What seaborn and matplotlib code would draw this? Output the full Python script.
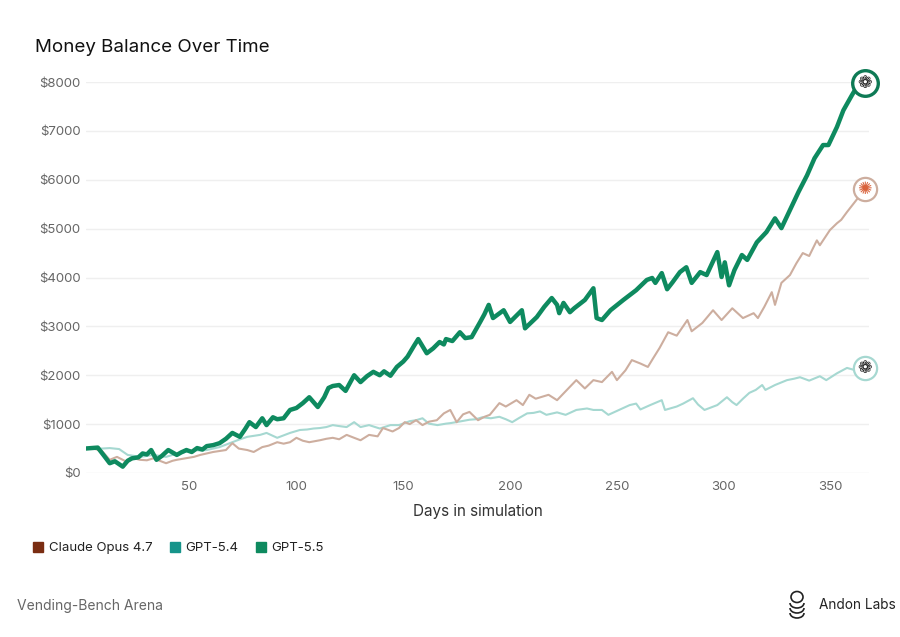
import numpy as np
import pandas as pd
import matplotlib
matplotlib.use("Agg")
import matplotlib.pyplot as plt
from matplotlib.lines import Line2D
from matplotlib.patches import Arc, Ellipse
import seaborn as sns

# values (day, balance in $)
gpt55_days = [1, 4, 7, 10, 12.6, 15, 18.7, 21, 23, 26, 28, 30, 32, 34.5, 37, 40, 42, 44, 46, 48.5,
              51, 53.5, 56, 58, 61, 64, 67, 70, 73.5, 76, 78, 81, 84, 86, 89, 91, 94, 97, 100, 103,
              106, 110, 113, 115, 117, 120, 123, 127, 130, 133, 136, 139, 141, 144, 147, 150, 152,
              155, 157, 161, 164, 167, 169, 170, 173, 176.5, 179, 182, 186, 188, 190, 192, 197, 200,
              205.5, 207, 212.5, 216, 219.5, 222, 223, 225, 228, 230, 235, 239, 240.5, 243, 247, 253,
              259, 264, 266.5, 268, 271, 273.5, 276, 279.5, 282.5, 285, 289, 292, 297, 299, 300.5,
              302.5, 305, 308.5, 311, 315.5, 320, 324, 327, 331, 335, 339, 342.5, 346.5, 349, 353,
              356, 360, 363, 366]
gpt55_vals = [500, 510, 520, 350, 200, 240, 130, 250, 300, 320, 400, 380, 470, 270, 350, 470, 420, 370, 420, 470,
              430, 510, 480, 550, 570, 610, 700, 820, 740, 900, 1040, 940, 1120, 980, 1140, 1100, 1120, 1290, 1330, 1430,
              1550, 1350, 1550, 1740, 1780, 1800, 1680, 2000, 1860, 1980, 2070, 2000, 2080, 1990, 2170, 2280, 2380,
              2600, 2740, 2450, 2550, 2680, 2630, 2740, 2700, 2880, 2760, 2780, 3090, 3250, 3440, 3170, 3330, 3090,
              3330, 2960, 3190, 3400, 3580, 3440, 3270, 3480, 3290, 3370, 3540, 3780, 3170, 3130, 3330, 3540,
              3740, 3950, 3990, 3890, 4090, 3760, 3900, 4110, 4210, 3890, 4110, 4050, 4520, 4010, 4310,
              3840, 4150, 4460, 4360, 4720, 4930, 5210, 5010, 5380, 5750, 6090, 6440, 6710, 6710, 7080,
              7420, 7730, 7950, 7980]

opus_days = [1, 5, 9, 12.6, 16, 20.5, 24, 26.7, 30, 33, 36, 39, 42, 44, 48, 52, 55, 58, 61, 64, 67, 70,
             73, 77, 80, 84, 87, 91, 94, 97, 100, 103, 106, 111, 114, 117, 120, 123.5, 127, 130, 134, 138,
             140.5, 145, 148, 150.7, 153, 156, 159, 162, 165.7, 169, 172, 175, 178, 181, 185, 188, 190.5,
             195, 198, 203, 206, 209, 212, 215, 218, 222, 226.6, 231, 235, 239, 243, 247.7, 250, 254, 257,
             261, 264.5, 267, 270, 274, 278, 283, 285, 290, 295, 299, 304, 309, 314, 316, 319, 322.5, 324,
             327, 331, 334, 337, 340, 343.6, 345, 349.7, 353, 355, 357.7, 362, 366]
opus_vals = [500, 500, 450, 270, 330, 230, 300, 270, 260, 300, 250, 200, 250, 270, 300, 330, 370, 400, 430, 450, 470, 610,
             500, 470, 430, 530, 560, 630, 600, 630, 720, 660, 630, 670, 700, 720, 690, 780, 720, 670, 780, 750,
             920, 850, 920, 1040, 1000, 1080, 980, 1050, 1080, 1220, 1290, 1040, 1200, 1250, 1080, 1150, 1190,
             1430, 1360, 1490, 1390, 1600, 1520, 1560, 1600, 1490, 1700, 1900, 1730, 1900, 1860, 2070, 1900, 2100, 2310,
             2240, 2170, 2350, 2560, 2880, 2810, 3130, 2900, 3070, 3330, 3130, 3370, 3170, 3270, 3170, 3400, 3700, 3440,
             3890, 4050, 4290, 4500, 4440, 4760, 4660, 4970, 5110, 5180, 5340, 5580, 5820]

gpt54_days = [1, 5, 9, 12.6, 17, 21, 24, 26.7, 30, 33, 36, 39, 42, 45, 48, 52, 55, 58, 61, 64, 67, 70,
              73, 77, 80, 83, 86, 88, 91, 94, 97, 101.6, 105, 108, 111, 114, 117, 120, 123.5, 127, 130, 134,
              139, 144, 148, 153, 156, 159, 162, 166, 170, 172, 176, 181, 184, 187, 191, 195, 198, 201, 204,
              208, 211, 214, 217, 222, 226, 231, 236, 239, 243, 246, 251, 256, 259, 261, 265.6, 271, 272.5,
              278, 281, 285.6, 288, 291, 294, 297, 301.5, 304, 306, 309, 312, 315, 318, 319.5, 324, 329.6,
              333, 335.7, 340, 345, 348, 353, 357.7, 361, 364, 366]
gpt54_vals = [500, 500, 500, 510, 490, 370, 350, 330, 350, 370, 350, 330, 370, 400, 430, 470, 460, 470, 500, 530, 580, 630,
              680, 740, 760, 780, 820, 780, 720, 770, 820, 880, 890, 910, 920, 940, 980, 960, 940, 1040, 940, 980,
              910, 980, 980, 1060, 1080, 1120, 1010, 980, 1010, 1020, 1050, 1090, 1100, 1140, 1120, 1150, 1100, 1040, 1120,
              1220, 1230, 1260, 1190, 1240, 1190, 1290, 1320, 1290, 1290, 1190, 1290, 1390, 1420, 1300, 1390, 1490, 1290,
              1360, 1420, 1530, 1400, 1290, 1340, 1390, 1550, 1450, 1390, 1520, 1640, 1700, 1800, 1700, 1800, 1900,
              1930, 1960, 1890, 1980, 1900, 2040, 2150, 2110, 2160, 2150]

model_names = ["Claude Opus 4.7", "GPT-5.4", "GPT-5.5"]
legend_colors = ["#7a2d12", "#16948a", "#0e8a5f"]
x_ticks = [50, 100, 150, 200, 250, 300, 350]
y_ticks = [0, 1000, 2000, 3000, 4000, 5000, 6000, 7000, 8000]


def main():
    sns.set_theme(style="white")
    plt.rcParams['font.family'] = ['Inter', 'DejaVu Sans']

    df = pd.concat([
        pd.DataFrame({'day': opus_days, 'balance': opus_vals, 'model': model_names[0]}),
        pd.DataFrame({'day': gpt54_days, 'balance': gpt54_vals, 'model': model_names[1]}),
        pd.DataFrame({'day': gpt55_days, 'balance': gpt55_vals, 'model': model_names[2]}),
    ])

    fig = plt.figure(figsize=(9, 6.37), dpi=100)
    ax = fig.add_axes([86 / 900, 1 - 473 / 637, (869 - 86) / 900, (473 - 82) / 637])

    # faded lines for the other models, bold one for GPT-5.5
    sns.lineplot(data=df[df['model'] == model_names[1]], x='day', y='balance', ax=ax,
                 color='#a6d8d1', linewidth=1.5, legend=False, zorder=2)
    sns.lineplot(data=df[df['model'] == model_names[0]], x='day', y='balance', ax=ax,
                 color='#cdae9f', linewidth=1.5, legend=False, zorder=3)
    sns.lineplot(data=df[df['model'] == model_names[2]], x='day', y='balance', ax=ax,
                 color='#0e8a5f', linewidth=3.2, legend=False, zorder=4)
    for ln in ax.get_lines():
        ln.set_solid_joinstyle('round')
        ln.set_solid_capstyle('round')

    ax.set_xlim(1.5, 368)
    ax.set_ylim(0, 8000)
    ax.set_xticks(x_ticks)
    ax.set_yticks(y_ticks)
    ax.set_yticklabels([f'${v}' for v in y_ticks])
    ax.tick_params(axis='both', length=0, labelsize=9.5, labelcolor='#666666')
    ax.tick_params(axis='x', pad=6)
    ax.tick_params(axis='y', pad=4)
    ax.grid(axis='y', color='#efefef', linewidth=1)
    ax.grid(axis='x', visible=False)
    for s in ax.spines.values():
        s.set_visible(False)
    ax.set_xlabel('Days in simulation', fontsize=11, color='#333333', labelpad=8)
    ax.set_ylabel('')

    # end-point badges
    ends = [(gpt55_days[-1], gpt55_vals[-1], '#0e7a55', 2.4, '❁', '#111111', 340),
            (opus_days[-1], opus_vals[-1], '#cdae9f', 1.6, '✺', '#d9623b', 280),
            (gpt54_days[-1], gpt54_vals[-1], '#a6d8d1', 1.6, '❁', '#111111', 280)]
    for d, v, ec, lw, icon, ic, size in ends:
        ax.scatter([d], [v], s=size, facecolor='white', edgecolor=ec, linewidth=lw,
                   zorder=6, clip_on=False)
        ax.text(d, v, icon, ha='center', va='center', fontsize=12.5, color=ic,
                family=['DejaVu Sans'], zorder=7, clip_on=False)

    fig.text(35 / 900, 1 - 48 / 637, 'Money Balance Over Time', fontsize=13.5,
             color='#111111', va='center', ha='left')

    handles = [Line2D([], [], linestyle='none', marker='s', markersize=7,
                      markerfacecolor=c, markeredgecolor=c) for c in legend_colors]
    fig.legend(handles, model_names, loc='center left', bbox_to_anchor=(0.022, 1 - 548 / 637),
               ncol=3, frameon=False, fontsize=9.5, handletextpad=0.3, columnspacing=1.2,
               handlelength=1.0, labelcolor='#222222')

    fig.text(17 / 900, 1 - 606 / 637, 'Vending-Bench Arena', fontsize=10,
             color='#666666', va='center', ha='left')
    fig.text(819 / 900, 1 - 605 / 637, 'Andon Labs', fontsize=9.8,
             color='#222222', va='center', ha='left')

    # small stacked-disc logo
    lax = fig.add_axes([788 / 900, 1 - 620 / 637, 18 / 900, 30 / 637])
    lax.set_xlim(0, 18)
    lax.set_ylim(0, 30)
    lax.axis('off')
    lax.add_patch(Ellipse((9, 23), 12, 11, fill=False, edgecolor='#222222', linewidth=1.2))
    for yy in [17, 12, 7]:
        lax.add_patch(Arc((9, yy), 14, 10, theta1=180, theta2=360,
                          edgecolor='#222222', linewidth=1.2))

    fig.savefig('out.png', dpi=100)


if __name__ == '__main__':
    main()
